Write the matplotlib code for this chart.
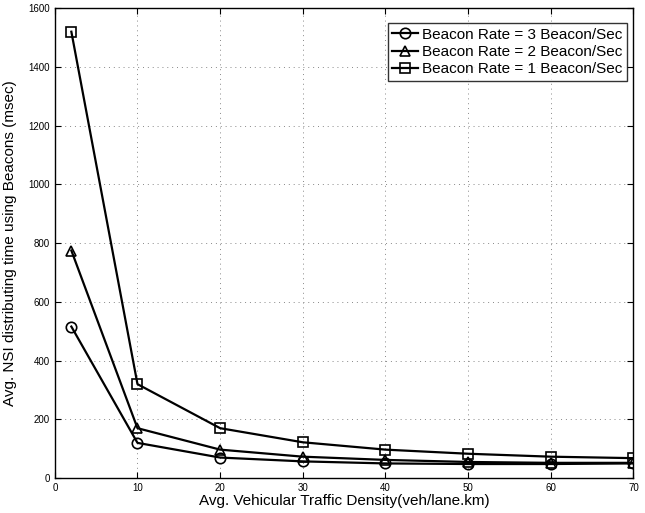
import matplotlib
matplotlib.use("Agg")
import matplotlib.pyplot as plt

plt.rcParams['font.family'] = ['Liberation Sans', 'DejaVu Sans']

density = [2, 10, 20, 30, 40, 50, 60, 70]
rate3 = [516, 120, 70, 57, 50, 48, 48, 50]
rate2 = [775, 170, 97, 73, 62, 55, 52, 52]
rate1 = [1520, 320, 170, 122, 97, 83, 73, 68]
labels = ['Beacon Rate = 3 Beacon/Sec', 'Beacon Rate = 2 Beacon/Sec', 'Beacon Rate = 1 Beacon/Sec']
xticks = [0, 10, 20, 30, 40, 50, 60, 70]
yticks = [0, 200, 400, 600, 800, 1000, 1200, 1400, 1600]

fig = plt.figure(figsize=(6.45, 5.13), dpi=100)
ax = fig.add_axes([0.085, 0.068, 0.897, 0.916])

for ys, m, lab in zip([rate3, rate2, rate1], ['o', '^', 's'], labels):
    ax.plot(density, ys, color='black', lw=1.6, marker=m, markersize=7.5 if m != 's' else 6.5,
            markerfacecolor='none', markeredgecolor='black', markeredgewidth=1.2, label=lab)

ax.set_xlim(0, 70)
ax.set_ylim(0, 1600)
ax.set_xticks(xticks)
ax.set_yticks(yticks)
ax.tick_params(direction='in', labelsize=7, length=4, top=True, right=True, width=0.8)
ax.grid(True, linestyle=(0, (1, 4)), color='#888888', linewidth=0.7)
for s in ax.spines.values():
    s.set_linewidth(1.0)
ax.set_xlabel('Avg. Vehicular Traffic Density(veh/lane.km)', fontsize=11, labelpad=1)
ax.set_ylabel('Avg. NSI distributing time using Beacons (msec)', fontsize=11, labelpad=8)

leg = ax.legend(loc='upper right', bbox_to_anchor=(0.989, 0.968), fontsize=11, frameon=True,
                fancybox=False, edgecolor='black', handlelength=1.7, handletextpad=0.25,
                borderpad=0.3, labelspacing=0.2, borderaxespad=0.0)
leg.get_frame().set_linewidth(1.0)

fig.savefig('out.png', dpi=100)
